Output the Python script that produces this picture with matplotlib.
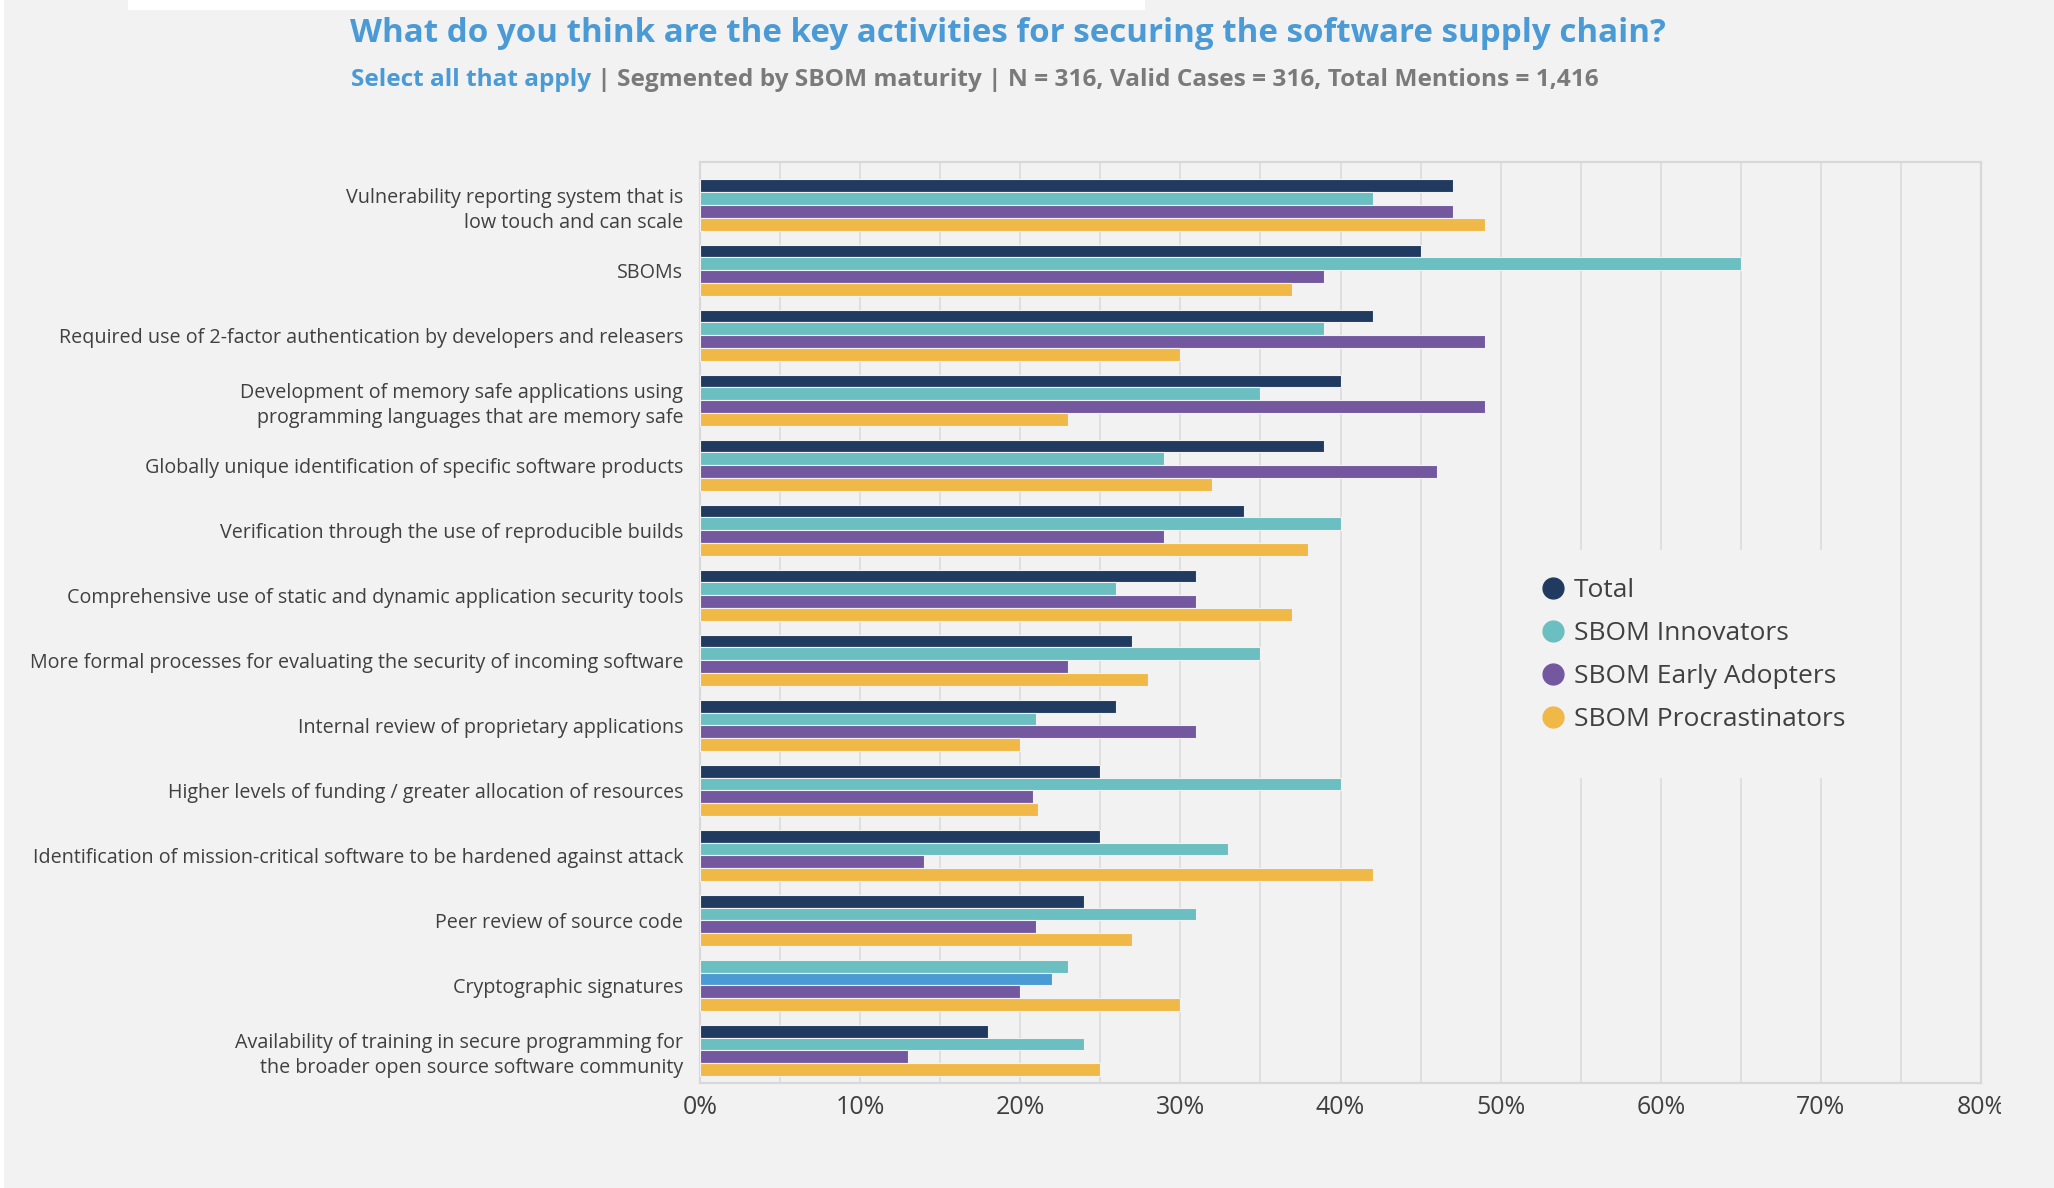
import matplotlib
matplotlib.use("Agg")
import matplotlib.pyplot as plt
import numpy as np
from matplotlib.lines import Line2D
from matplotlib.patches import Rectangle
from matplotlib.transforms import Bbox

plt.rcParams['font.family'] = ['Open Sans', 'DejaVu Sans']

# activities, top to bottom
activities = [
    "Vulnerability reporting system that is\nlow touch and can scale",
    "SBOMs",
    "Required use of 2-factor authentication by developers and releasers",
    "Development of memory safe applications using\nprogramming languages that are memory safe",
    "Globally unique identification of specific software products",
    "Verification through the use of reproducible builds",
    "Comprehensive use of static and dynamic application security tools",
    "More formal processes for evaluating the security of incoming software",
    "Internal review of proprietary applications",
    "Higher levels of funding / greater allocation of resources",
    "Identification of mission-critical software to be hardened against attack",
    "Peer review of source code",
    "Cryptographic signatures",
    "Availability of training in secure programming for\nthe broader open source software community",
]

series_names = ["Total", "SBOM Innovators", "SBOM Early Adopters", "SBOM Procrastinators"]

total = [47, 45, 42, 40, 39, 34, 31, 27, 26, 25, 25, 24, 23, 18]
innovators = [42, 65, 39, 35, 29, 40, 26, 35, 21, 40, 33, 31, 22, 24]
early_adopters = [47, 39, 49, 49, 46, 29, 31, 23, 31, 20.8, 14, 21, 20, 13]
procrastinators = [49, 37, 30, 23, 32, 38, 37, 28, 20, 21.1, 42, 27, 30, 25]

series_colors = ["#213a60", "#6bbfc0", "#73589f", "#f0b846"]
# the source chart colours the first two "Cryptographic signatures" bars differently
color_override = {(12, 0): "#6bbfc0", (12, 1): "#4a9ad4"}

x_ticks = [0, 10, 20, 30, 40, 50, 60, 70, 80]

bg = "#f2f2f2"
text_col = "#404040"

fig = plt.figure(figsize=(20.54, 11.88), dpi=100, facecolor=bg)
W, H = 2054, 1188

# thin white border strip / top white box seen in the original screenshot
fig.patches.append(Rectangle((0, 0), 4 / W, 1, transform=fig.transFigure, facecolor="white", edgecolor="none"))
fig.patches.append(Rectangle((128 / W, 1 - 10 / H), (1145 - 128) / W, 10 / H,
                             transform=fig.transFigure, facecolor="white", edgecolor="none"))

ax = fig.add_axes([700 / W, 1 - 1083 / H, 1281 / W, 921 / H])
ax.set_facecolor(bg)

data = [total, innovators, early_adopters, procrastinators]
y = np.arange(len(activities))
step = 0.198
offsets = (np.arange(4) - 1.5) * step
for k, vals in enumerate(data):
    cols = [color_override.get((i, k), series_colors[k]) for i in range(len(vals))]
    ax.barh(y + offsets[k], vals, height=step, color=cols, edgecolor=bg, linewidth=0.8, zorder=3)

ax.set_ylim(13.5, -0.665)
ax.set_xlim(0, 80)
ax.set_yticks(y)
ax.set_yticklabels(activities, fontsize=14.2, color=text_col, linespacing=1.34)
ax.set_xticks(x_ticks)
ax.set_xticklabels([f"{v}%" for v in x_ticks], fontsize=18, color=text_col)
ax.set_xticks(np.arange(0, 81, 5), minor=True)
ax.tick_params(axis="both", which="both", length=0)
ax.tick_params(axis="y", pad=12)
ax.tick_params(axis="x", pad=9)
ax.grid(axis="x", which="both", color="#dcdcdc", linewidth=1.2, zorder=0)
ax.set_axisbelow(True)
for sp in ax.spines.values():
    sp.set_color("#d8d8d8")
    sp.set_linewidth(1.6)

# the 80% label is cut off at the image edge in the original
last = ax.xaxis.get_major_ticks()[-1].label1
last.set_clip_box(Bbox([[0, 0], [2001, H]]))
last.set_clip_on(True)

# legend backdrop hides the grid behind it
ax.add_patch(Rectangle((1515 / W, 1 - 778 / H), (1860 - 1515) / W, (778 - 550) / H,
                       transform=fig.transFigure, facecolor=bg, edgecolor="none", zorder=2))
handles = [Line2D([], [], linestyle="none", marker="o", markersize=15,
                  markerfacecolor=c, markeredgecolor=c) for c in series_colors]
leg = fig.legend(handles, series_names, loc="upper left", bbox_to_anchor=(1542 / W, 1 - 578 / H),
                 bbox_transform=fig.transFigure, frameon=False, fontsize=19,
                 handlelength=0.8, handletextpad=0.4, labelspacing=0.685,
                 borderpad=0, borderaxespad=0)
for t in leg.get_texts():
    t.set_color(text_col)

fig.text(1008 / W, 1 - 34 / H, "What do you think are the key activities for securing the software supply chain?",
         ha="center", va="center", fontsize=23.9, fontweight="bold", color="#4a9ad6")
sub1 = fig.text(351 / W, 1 - 80 / H, "Select all that apply", ha="left", va="center",
                fontsize=17.6, fontweight="bold", color="#4a9ad6")
ax.annotate(" | Segmented by SBOM maturity | N = 316, Valid Cases = 316, Total Mentions = 1,416",
            xy=(1, 0), xycoords=sub1, va="bottom", ha="left", fontsize=17.6,
            fontweight="bold", color="#7a7a7a", annotation_clip=False)

fig.savefig("out.png", dpi=100, facecolor=bg)
